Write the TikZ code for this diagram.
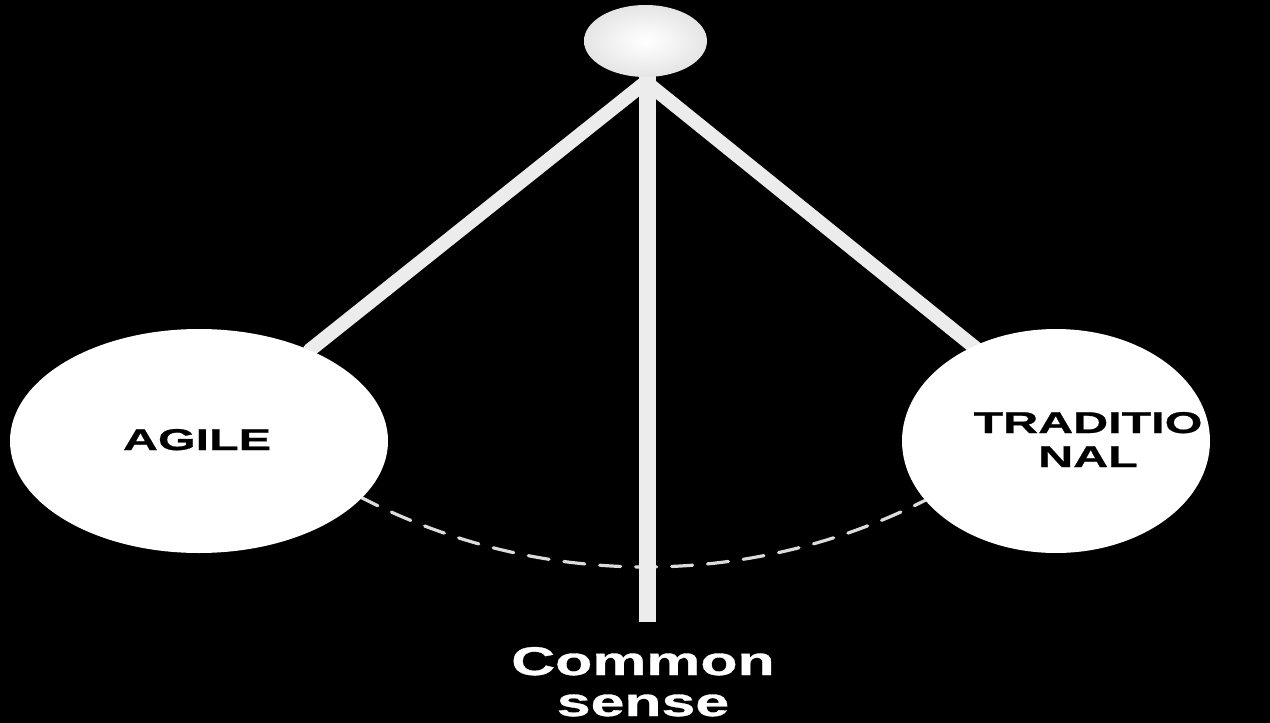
\documentclass[tikz,border=0pt]{standalone}
\usepackage{fontspec}
\setmainfont{Liberation Sans}
\newfontfamily\widefont[FakeStretch=1.615, FakeBold=0.8]{Liberation Sans}
\newfontfamily\wideCfont[FakeStretch=1.52, FakeBold=0.8]{Liberation Sans}
\usetikzlibrary{shapes.geometric}
\pgfdeclareradialshading{knob}{\pgfpoint{0bp}{0bp}}{color(0bp)=(white); color(8bp)=(white!97!black); color(50bp)=(black!21)}
\definecolor{rodgray}{RGB}{236,236,236}
\definecolor{dashgray}{RGB}{220,220,220}
\tikzset{
  rod/.style={draw=rodgray, line width=14pt, line cap=round},
  vrod/.style={draw=rodgray, line width=17.5pt, line cap=butt},
  pathdash/.style={draw=dashgray, line width=3.2pt, dash pattern=on 21pt off 15pt, line cap=round},
  bigball/.style={ellipse, fill=white, inner sep=0pt},
  balltext/.style={font=\widefont\bfseries\fontsize{30}{34}\selectfont, text=black, align=center, inner sep=0pt},
  sensetext/.style={font=\wideCfont\bfseries\fontsize{40}{41}\selectfont, text=white, align=center, inner sep=0pt},
}
\begin{document}
\begin{tikzpicture}[x=1pt, y=-1pt]
  \fill[black] (0,0) rectangle (1270,723);
  \useasboundingbox (0,0) rectangle (1270,723);
  % dashed swing arc
  \draw[pathdash] plot[domain=121:60, samples=80] ({646+618*cos(\x)}, {-51+618*sin(\x)});
  % coordinates
  \coordinate (piv) at (646,82);
  \coordinate (lend) at (310,350);
  \coordinate (rend) at (978,350);
  \coordinate (vtop) at (647.5,70);
  \coordinate (vbot) at (647.5,622);
  % rods
  \draw[rod] (piv) -- (lend);
  \draw[rod] (piv) -- (rend);
  \draw[vrod] (vtop) -- (vbot);
  % balls
  \node[bigball, minimum width=378pt, minimum height=224pt] (agile) at (199,441) {};
  \node[bigball, minimum width=308pt, minimum height=224pt] (trad) at (1056,441) {};
  \node[ellipse, shading=knob, minimum width=123pt, minimum height=72pt, inner sep=0pt] (knob) at (645.5,41) {};
  % texts
  \node[balltext, anchor=base] (agiletxt) at (197,450) {AGILE};
  \node[balltext, anchor=base] (tradtxt) at (1088,467) {TRADITIO\\NAL};
  \node[sensetext, anchor=base] (sense) at (643,716) {Common\\sense};
\end{tikzpicture}
\end{document}
